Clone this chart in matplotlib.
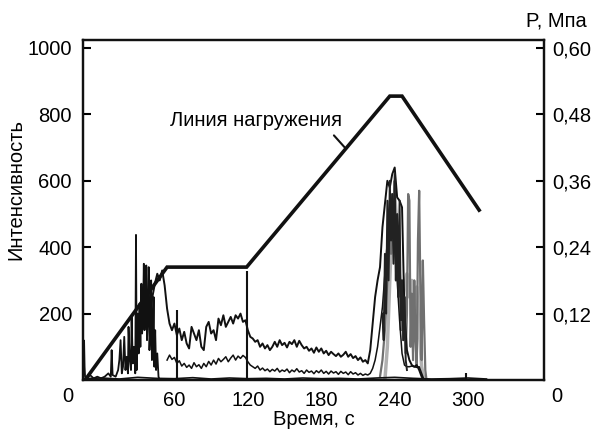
import numpy as np
import matplotlib
matplotlib.use("Agg")
import matplotlib.pyplot as plt

# loading line (time, s / pressure, MPa)
load_t = [-13, 54, 119, 236, 246, 309]
load_p = [0.0, 0.204, 0.204, 0.513, 0.513, 0.307]

# early AE bursts
spike_t = [-14.6, -14.2, -13.8, -13.4, -13.0, -12.0, -9.0, -6.0, -3.0, 0.0,
           3.0, 6.0, 8.0, 8.7, 9.5, 12.0, 14.0, 15.0, 16.0, 17.0,
           18.0, 19.0, 20.0, 21.0, 22.0, 22.5, 23.5, 24.5, 25.0, 26.0,
           27.0, 28.0, 28.6, 29.2, 30.0, 30.8, 31.5, 32.2, 33.0, 33.6,
           34.3, 35.0, 35.6, 36.3, 37.0, 37.6, 38.3, 39.0, 39.6, 40.3,
           41.0, 41.6, 42.3, 43.0, 43.6, 44.3, 45.0, 46.0, 47.0, 48.0]
spike_i = [0, 120, 115, 40, 10, 5, 15, 5, 10, 5,
           10, 20, 10, 90, 15, 10, 30, 60, 120, 20,
           40, 130, 30, 70, 20, 160, 60, 30, 190, 50,
           100, 20, 437, 30, 200, 80, 230, 100, 290, 140,
           180, 350, 150, 220, 345, 120, 200, 340, 90, 160,
           300, 60, 100, 250, 40, 150, 30, 80, 10, 0]

# bursts in the second (main) peak
peak_t = [230, 231, 232, 233, 234, 235, 236, 237, 238, 239,
          240, 241, 242, 243, 244, 245, 246, 247, 248, 249, 250]
peak_i = [200, 120, 380, 200, 540, 300, 600, 420, 560, 350,
          620, 300, 500, 250, 540, 180, 300, 120, 250, 60, 30]

# single bursts
bar_t = [62, 119.5, 298]
bar_i = [210, 328, 20]

# upper intensity trace, every 2 s from t = 40 s
upper_t0 = 40
upper_i = [200, 250, 290, 320, 300, 330, 285, 215, 170, 150,
           170, 135, 155, 120, 145, 110, 95, 160, 140, 120,
           150, 100, 90, 160, 175, 140, 150, 120, 185, 165,
           195, 160, 175, 190, 170, 195, 185, 200, 175, 180,
           150, 130, 125, 115, 120, 100, 110, 95, 105, 90,
           100, 115, 100, 120, 105, 112, 98, 115, 108, 120,
           100, 118, 105, 95, 100, 88, 95, 82, 98, 85,
           95, 80, 88, 75, 85, 78, 72, 80, 70, 76,
           85, 70, 78, 66, 72, 60, 68, 55, 60, 50,
           90, 170, 250, 300, 340, 460, 530, 600, 580, 620,
           640, 550, 540, 520, 200, 90, 60, 45, 40, 45,
           30, 10, 0]

# lower intensity trace, every 2 s from t = 54 s
lower_t0 = 54
lower_i = [60, 75, 62, 68, 50, 58, 42, 50, 38, 45,
           35, 52, 40, 46, 35, 50, 40, 56, 45, 60,
           48, 65, 55, 62, 70, 55, 66, 75, 60, 72,
           65, 74, 68, 55, 45, 40, 35, 42, 30, 36,
           28, 33, 25, 32, 27, 35, 24, 30, 26, 33,
           22, 30, 25, 34, 24, 28, 20, 30, 23, 27,
           19, 28, 22, 30, 20, 26, 18, 27, 21, 25,
           17, 26, 20, 24, 16, 25, 18, 22, 15, 20,
           14, 18, 15, 20, 35, 60, 100, 160, 220, 320,
           420, 500, 470, 400, 300, 180, 80, 45, 40, 40,
           42, 40, 38, 40, 20, 0]

# grey traces in the second burst
grey_t = [228, 230, 232, 234, 236, 237, 238, 239, 240, 241,
          242, 243, 244, 245, 246, 247, 248, 249, 250, 251,
          252, 253, 254, 255, 256, 257, 258, 259, 260, 261,
          262, 263, 264, 265, 266]
grey_i = [10, 60, 150, 300, 450, 380, 560, 420, 600, 300,
          450, 250, 380, 150, 300, 120, 250, 80, 200, 560,
          540, 100, 260, 60, 300, 120, 40, 420, 570, 260,
          60, 360, 180, 30, 0]

light_t = [232, 234, 236, 238, 240, 242, 244, 246, 248, 250,
           252, 254, 256, 258, 260, 262, 264]
light_i = [0, 100, 300, 500, 560, 450, 300, 200, 280, 320,
           250, 300, 200, 280, 150, 40, 0]

# background noise along the time axis
base_t = [-14, 0, 15, 30, 45, 60, 75, 90, 105, 120, 135, 150,
          165, 180, 195, 210, 225, 240, 255, 270, 285, 300, 315]
base_i = [4, 6, 3, 8, 5, 4, 7, 3, 6, 4, 5, 3, 6, 4, 5, 3, 6, 8, 5, 3, 4, 6, 3]

left_ticks = [200, 400, 600, 800, 1000]
right_ticks = [0.12, 0.24, 0.36, 0.48, 0.60]
x_ticks = [60, 120, 180, 240, 300]

plt.rcParams["font.family"] = ["Liberation Sans", "DejaVu Sans"]
plt.rcParams["font.size"] = 14.5

fig = plt.figure(figsize=(5.94, 4.29), dpi=100)
ax = fig.add_axes([83 / 594, 1 - 380 / 429, (544 - 83) / 594, (380 - 40) / 429])

ax.plot(light_t, light_i, color="#b0b0b0", lw=2.5)
ax.plot(grey_t, grey_i, color="#707070", lw=1.6)
ax.plot(base_t, base_i, color="#111111", lw=1.2)
ax.plot(lower_t0 + 2 * np.arange(len(lower_i)), lower_i, color="#111111", lw=1.1)
ax.plot(upper_t0 + 2 * np.arange(len(upper_i)), upper_i, color="#111111", lw=1.4)
ax.plot(peak_t, peak_i, color="#222222", lw=1.4)
ax.plot(spike_t, spike_i, color="#111111", lw=1.3)
ax.vlines(bar_t, 0, bar_i, color="#111111", lw=1.5)

ax.set_xlim(-14.7, 362)
ax.set_ylim(0, 1024)
ax.set_xticks(x_ticks)
ax.set_yticks(left_ticks)
ax.tick_params(axis="x", length=0, pad=8)
ax.tick_params(axis="y", direction="in", length=6, width=1.5, pad=8)
ax.set_xlabel("Время, с", labelpad=0)
ax.set_ylabel("Интенсивность")
ax.yaxis.set_label_coords(-0.124, 0.56)

ax.annotate("Линия нагружения", xy=(200, 697), xytext=(127, 783),
            ha="center", va="center",
            arrowprops=dict(arrowstyle="-", color="#111111", lw=1.5,
                            relpos=(0.92, 0.0), shrinkA=3, shrinkB=0))

ax2 = ax.twinx()
ax2.plot(load_t, load_p, color="#111111", lw=2.6, solid_joinstyle="miter")
ax2.set_ylim(0, 0.6144)
ax2.set_yticks(right_ticks)
ax2.set_yticklabels([f"{v:.2f}".replace(".", ",") for v in right_ticks])
ax2.tick_params(axis="y", direction="in", length=6, width=1.5, pad=6)

for a in (ax, ax2):
    for s in a.spines.values():
        s.set_linewidth(1.6)
        s.set_color("#111111")

fig.text(68 / 594, 1 - 397 / 429, "0", ha="center", va="center")
fig.text(557 / 594, 1 - 397 / 429, "0", ha="center", va="center")
fig.text(556 / 594, 1 - 21 / 429, "P, Мпа", ha="center", va="center")

fig.savefig("out.png", dpi=100)
